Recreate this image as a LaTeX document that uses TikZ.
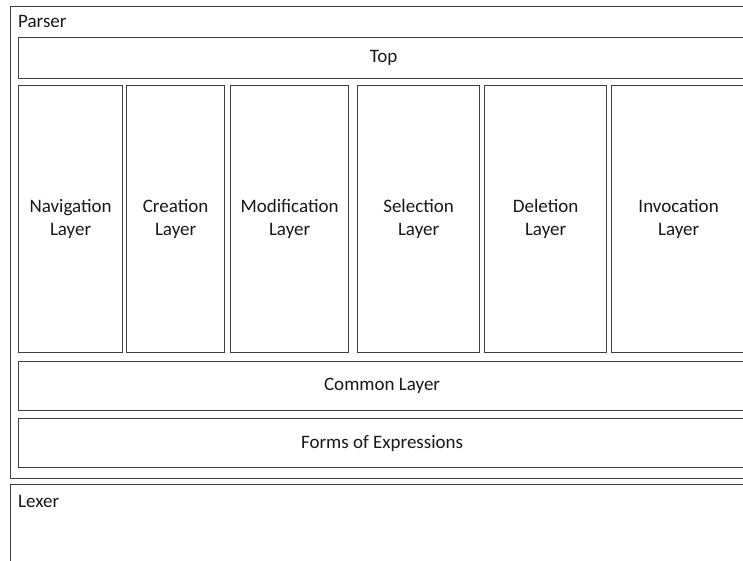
\documentclass[tikz,border=0pt]{standalone}
\usepackage{fontspec}
\setmainfont{Carlito}
\begin{document}
\begin{tikzpicture}[x=1pt,y=-1pt,
  box/.style={draw=black!75, line width=1.2pt, fill=white, inner sep=0pt, anchor=north west, align=center, text=black!90, font=\fontsize{19}{23.5}\selectfont},
  lbl/.style={anchor=west, inner sep=0pt, text=black!90, font=\fontsize{19}{22}\selectfont}]
\useasboundingbox (0,0) rectangle (743,560);
\clip (0,0) rectangle (743,560);
\fill[white] (0,0) rectangle (743,560);
\node[box, minimum width=740pt, minimum height=472pt] (parser) at (10,6) {};
\node[lbl] (parserlbl) at (18,21) {Parser};
\node[box, minimum width=730pt, minimum height=41pt] (top) at (18,37) {Top};
\node[box, minimum width=104pt, minimum height=267pt] (nav) at (18,85) {Navigation\\Layer};
\node[box, minimum width=98pt, minimum height=267pt] (cre) at (126,85) {Creation\\Layer};
\node[box, minimum width=118pt, minimum height=267pt] (mod) at (230,85) {Modification\\Layer};
\node[box, minimum width=122pt, minimum height=267pt] (sel) at (357,85) {Selection\\Layer};
\node[box, minimum width=122pt, minimum height=267pt] (del) at (484,85) {Deletion\\Layer};
\node[box, minimum width=134pt, minimum height=267pt] (inv) at (611,85) {Invocation\\Layer};
\node[box, minimum width=727pt, minimum height=49pt] (common) at (18,361) {Common Layer};
\node[box, minimum width=727pt, minimum height=49pt] (forms) at (18,418) {Forms of Expressions};
\node[box, minimum width=740pt, minimum height=90pt] (lexer) at (10,484) {};
\node[lbl] (lexerlbl) at (18,501) {Lexer};
\end{tikzpicture}
\end{document}
